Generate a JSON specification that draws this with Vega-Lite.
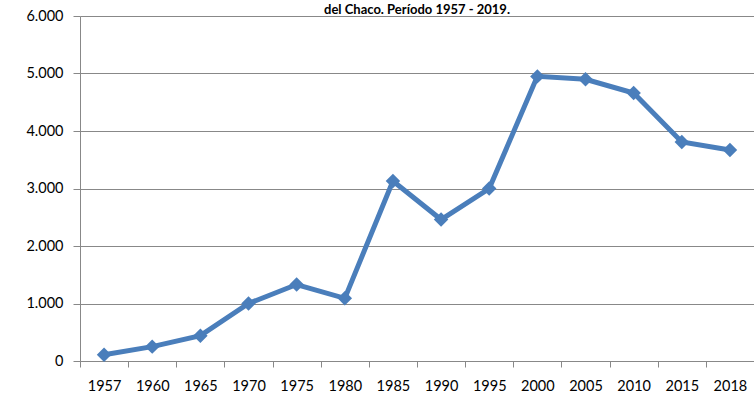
{
  "$schema": "https://vega.github.io/schema/vega-lite/v6.json",
  "width": 674,
  "height": 345,
  "autosize": "none",
  "padding": {"left": 80, "top": 16, "right": 0, "bottom": 39},
  "background": "white",
  "title": {
    "text": "del Chaco. Período 1957 - 2019.",
    "font": "Lato",
    "fontSize": 13,
    "fontWeight": "bold",
    "color": "#000000",
    "anchor": "middle",
    "baseline": "top",
    "offset": 0,
    "dy": 9
  },
  "config": {
    "locale": {"number": {"decimal": ",", "thousands": ".", "grouping": [3], "currency": ["$", ""]}},
    "view": {"stroke": null},
    "font": "Lato"
  },
  "data": {
    "values": [
      {"anio": "1957", "valor": 110},
      {"anio": "1960", "valor": 250},
      {"anio": "1965", "valor": 440},
      {"anio": "1970", "valor": 1000},
      {"anio": "1975", "valor": 1330},
      {"anio": "1980", "valor": 1090},
      {"anio": "1985", "valor": 3130},
      {"anio": "1990", "valor": 2460},
      {"anio": "1995", "valor": 3000},
      {"anio": "2000", "valor": 4950},
      {"anio": "2005", "valor": 4900},
      {"anio": "2010", "valor": 4660},
      {"anio": "2015", "valor": 3810},
      {"anio": "2018", "valor": 3670}
    ]
  },
  "encoding": {
    "x": {
      "field": "anio",
      "type": "ordinal",
      "bandPosition": 0.5,
      "scale": {"type": "band", "paddingInner": 0, "paddingOuter": 0},
      "axis": {
        "title": null,
        "labelAngle": 0,
        "labelFont": "Lato",
        "labelFontSize": 14.5,
        "labelColor": "#000000",
        "labelPadding": 12,
        "tickBand": "extent",
        "tickColor": "#888888",
        "tickSize": 6,
        "domainColor": "#888888",
        "domainWidth": 1,
        "grid": false
      }
    },
    "y": {
      "field": "valor",
      "type": "quantitative",
      "scale": {"domain": [0, 6000], "nice": false},
      "axis": {
        "title": null,
        "values": [0, 1000, 2000, 3000, 4000, 5000, 6000],
        "format": ",d",
        "labelFont": "Lato",
        "labelFontSize": 14.5,
        "labelColor": "#000000",
        "labelPadding": 10,
        "tickColor": "#888888",
        "tickSize": 7,
        "domainColor": "#888888",
        "gridColor": "#888888",
        "gridWidth": 1
      }
    }
  },
  "layer": [
    {
      "mark": {"type": "line", "color": "#4a7ebb", "strokeWidth": 5}
    },
    {
      "mark": {"type": "point", "shape": "diamond", "filled": true, "color": "#4a7ebb", "opacity": 1, "size": 210}
    }
  ]
}
